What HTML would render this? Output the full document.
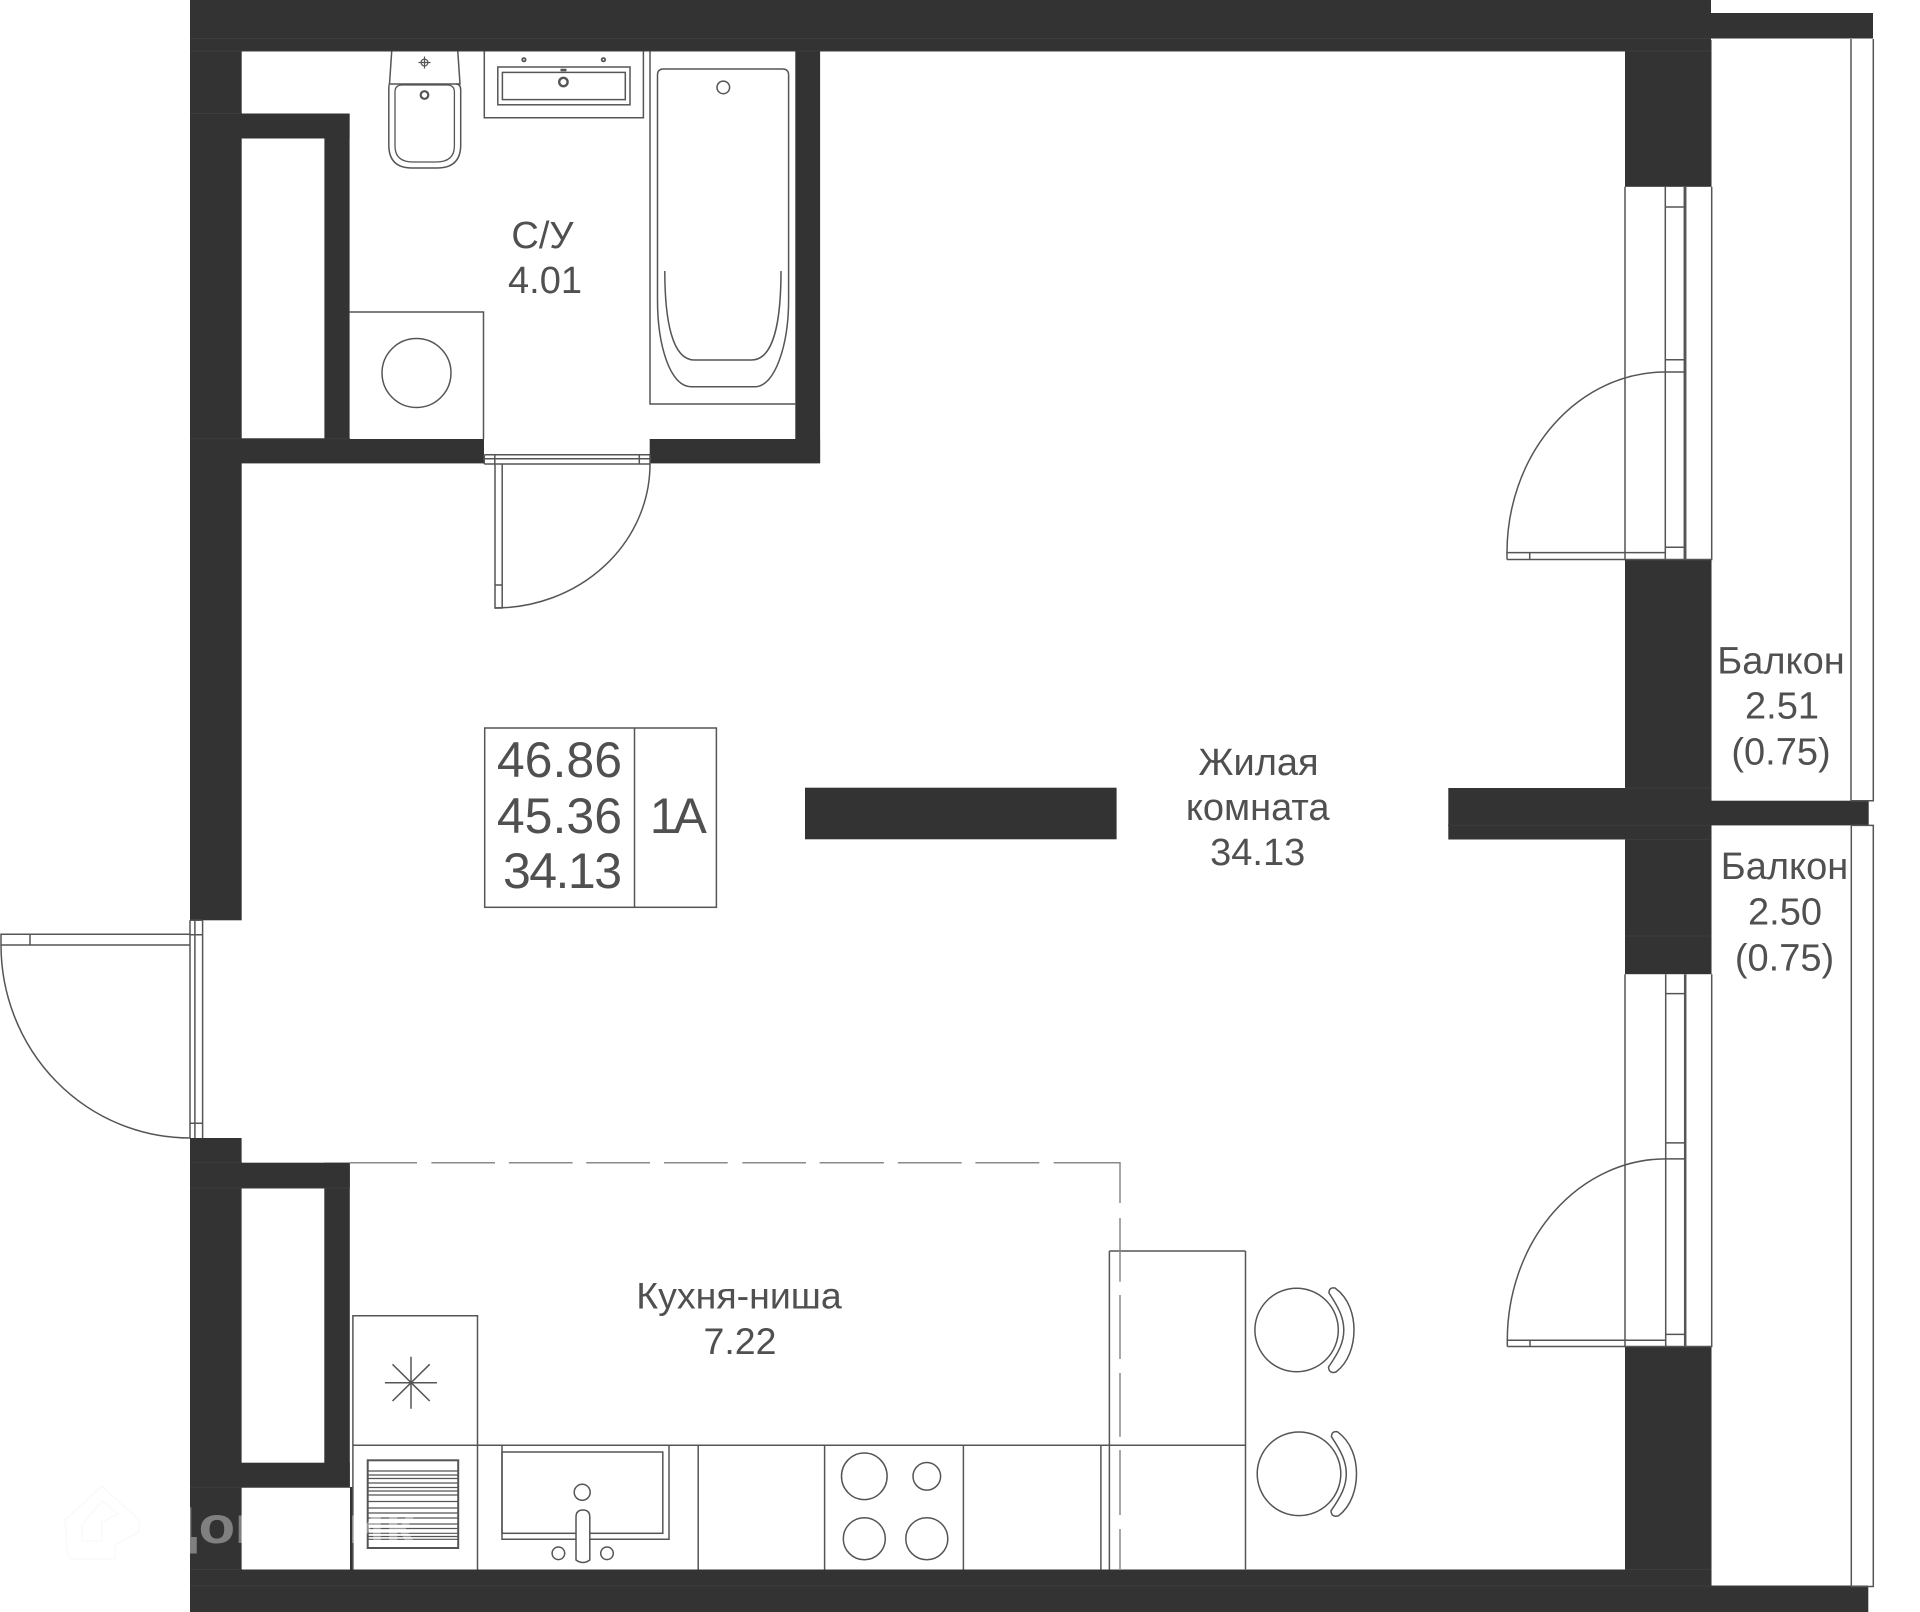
<!DOCTYPE html>
<html><head><meta charset="utf-8"><style>
html,body{margin:0;padding:0;background:#fff}
svg{display:block}
text{font-family:"Liberation Sans",sans-serif;fill:#505050}
</style></head><body>
<svg width="1920" height="1612" viewBox="0 0 1920 1612" xmlns="http://www.w3.org/2000/svg">
<!-- walls -->
<g fill="#333333">
<rect x="190" y="0" width="1521" height="51.4"/>
<rect x="1711" y="13" width="162" height="25.5"/>
<rect x="190" y="0" width="51.7" height="920.3"/>
<rect x="241" y="113.5" width="108.6" height="25"/>
<rect x="324.4" y="113.5" width="25.2" height="340"/>
<rect x="190" y="439" width="294" height="24.4"/>
<rect x="649.7" y="439" width="170.4" height="24.4"/>
<rect x="795.3" y="40" width="24.8" height="423"/>
<rect x="1625" y="40" width="86.5" height="146.8"/>
<rect x="1625" y="559.5" width="86.5" height="414.7"/>
<rect x="1625" y="1346.5" width="86.5" height="240"/>
<rect x="805" y="787.7" width="311.6" height="51.6"/>
<rect x="1448.3" y="788" width="200" height="51.5"/>
<rect x="1711" y="800.7" width="157.7" height="24.7"/>
<rect x="190" y="1138" width="51.6" height="474"/>
<rect x="190" y="1162.7" width="159.8" height="25.3"/>
<rect x="324.3" y="1162.7" width="25.5" height="324.6"/>
<rect x="190" y="1462.7" width="159.8" height="24.6"/>
<rect x="190" y="1569.5" width="1521.5" height="17"/>
<rect x="190" y="1586" width="1678.3" height="26"/>
<rect x="350" y="1487" width="2.5" height="83"/>
</g>
<!-- subtle wall seams -->
<g stroke="#3c3c3c" stroke-width="1" fill="none">
<path d="M190 38.5H1711M190 51H1711M190 113.5H242M190 438.8H350M190 1162.7H242M190 1188H350M190 1487.3H350M190 1569.5H242M1625 788H1710M1448 825.4H1710M1625 839.5H1710M1625 936H1710M190 1586H1868M1625 1569.5H1711"/>
</g>
<!-- fixtures -->
<g fill="none" stroke="#555" stroke-width="1.5">
<!-- balcony rails -->
<path d="M1851 39V800.7H1873.3V39"/>
<path d="M1851.3 825.4V1586.5H1873.3V825.4H1851.3"/>
<!-- toilet -->
<path d="M391.7 51.4L389.5 84H460L457.8 51.4"/>
<path d="M389.5 84Q388.8 84 388.8 90V145Q388.8 168 412 168H437Q460.7 168 460.7 145V90Q460.7 84 456 84"/>
<path d="M395 92Q395 85 402 85H447Q454.4 85 454.4 92V146Q454.4 162 436 162H413Q395 162 395 146Z" stroke-width="1.3"/>
<circle cx="424.5" cy="95" r="3.8" stroke-width="2.2"/>
<circle cx="424.5" cy="62.5" r="3.4" stroke-width="1.2"/>
<path d="M424.5 56.5V68.5M418.5 62.5H430.5" stroke-width="1.2"/>
<!-- sink -->
<path d="M484.3 51.4V117.8H643.4V51.4"/>
<rect x="497.8" y="67" width="132.2" height="37.8"/>
<rect x="502.4" y="72.4" width="122.9" height="27.2"/>
<circle cx="563.4" cy="82" r="4.2" stroke-width="2.4"/>
<circle cx="523.9" cy="59.7" r="1.7" stroke-width="1.8"/>
<circle cx="603.4" cy="59.7" r="1.7" stroke-width="1.8"/>
<path d="M560.5 70H566.5" stroke-width="2.5"/>
<!-- bath -->
<path d="M650 51.4V404H795.3"/>
<path d="M657.5 75Q657.5 69 663.5 69H782.5Q788.6 69 788.6 75V300C788.6 345 775 386.7 755 386.7H691C670 386.7 657.5 345 657.5 300Z"/>
<path d="M664.8 271C664.8 320 672 360 694.3 360H751.6C774 360 781 320 781 271"/>
<circle cx="723.3" cy="87.4" r="6.3"/>
<!-- washer -->
<path d="M349.6 312H483.5V439"/>
<circle cx="416.5" cy="373" r="34.5"/>
<!-- bath door -->
<path d="M484.3 454.7H650M484.3 458.7H650M484.3 464H650M484.3 454.7V464M494.8 454.7V464M639.3 454.7V464M650 454.7V464"/>
<path d="M495 464V608H502.2V464M495 585H502.2"/>
<path d="M650 464A155 144 0 0 1 495 608"/>
<!-- table -->
<rect x="484.7" y="728" width="231.7" height="179.3"/>
<path d="M634.5 728V907.3"/>
<!-- upper window -->
<path d="M1625 186.8V559.5H1711.7V186.8M1665.3 186.8V559.5M1684.3 186.8V559.5M1685.7 186.8V559.5M1665.3 207H1684.3M1665.3 359.7H1684.3M1665.3 372H1684.3M1665.3 547.3H1684.3"/>
<path d="M1507 559.5V552.6H1665.3M1507 559.5H1625M1529.7 552.6V559.5"/>
<path d="M1507 552.6A158.3 180.6 0 0 1 1665.3 372"/>
<!-- lower window -->
<path d="M1625 974.2V1346.5H1711.7V974.2M1665.7 974.2V1346.5M1684.7 974.2V1346.5M1685.7 974.2V1346.5M1665.7 993.6H1684.7M1665.7 1142.9H1684.7M1665.7 1158.9H1684.7M1665.7 1334.4H1684.7"/>
<path d="M1507.3 1346.5V1340.2H1665.7M1507.3 1346.5H1625M1530 1340.2V1346.5"/>
<path d="M1507.3 1340.2A158.4 181.3 0 0 1 1665.7 1158.9"/>
<!-- entry door -->
<path d="M190 920.3V1138M194.9 920.3V1138M202.6 920.3V1138M190 934.7H202.6M190 1123.3H202.6M190 920.3H202.6"/>
<path d="M190 934.3H1V945H190M30 934.3V945"/>
<path d="M1 945A189 193 0 0 0 190 1138"/>
<!-- kitchen -->
<path d="M352.9 1569.5V1315.7H477.5V1445.3M352.9 1445.3H1245.5"/>
<path d="M477.5 1445.3V1569.5M698.2 1445.3V1569.5M824.6 1445.3V1569.5M963.4 1445.3V1569.5M1100.9 1445.3V1569.5M1109.4 1251V1569.5M1245.5 1251V1569.5M1109.4 1251H1245.5"/>
<path d="M411 1356.7V1408.7M384.9 1382.7H436.9M392.5 1364.3L429.7 1401M429.7 1364.3L392.5 1401"/>
<rect x="367.7" y="1460.3" width="90.5" height="87.7" stroke-width="2"/>
<path d="M367.7 1471H458.2M367.7 1475H458.2M367.7 1478.5H458.2M367.7 1483H458.2M367.7 1487.5H458.2M367.7 1491H458.2M367.7 1495H458.2M367.7 1501.5H458.2M367.7 1508H458.2M367.7 1513H458.2M367.7 1518H458.2M367.7 1524H458.2M367.7 1528.5H458.2M367.7 1533.3H458.2M367.7 1536.5H458.2M367.7 1539.3H458.2" stroke-width="1.2"/>
<!-- kitchen sink -->
<path d="M502 1445.3V1539.3H669V1445.3"/>
<rect x="502" y="1452" width="160.8" height="81.3"/>
<circle cx="582.2" cy="1492.3" r="8"/>
<path d="M576 1517Q576 1510 583 1510Q589.8 1510 589.8 1517V1560Q583 1565 576 1560Z" fill="#fff"/>
<circle cx="558.4" cy="1553.3" r="6.3"/>
<circle cx="607" cy="1553.3" r="6.3"/>
<!-- hob -->
<ellipse cx="864.3" cy="1476.3" rx="22.8" ry="23.3"/>
<ellipse cx="926.8" cy="1476.3" rx="13.8" ry="13.8"/>
<ellipse cx="864.3" cy="1538.7" rx="21" ry="21"/>
<ellipse cx="926.8" cy="1538.7" rx="21" ry="21"/>
<!-- chairs -->
<circle cx="1296.6" cy="1330" r="41.7"/>
<path d="M1329 1293Q1329 1287 1335 1288C1349 1298 1354 1315 1354 1330C1354 1345 1349 1362 1336 1372Q1329 1374 1328.5 1367C1339 1352 1343.8 1342 1343.8 1330C1343.8 1318 1339 1308 1329 1293Z"/>
<circle cx="1299" cy="1473.8" r="41.8"/>
<path d="M1331.5 1436.8Q1331.5 1430.8 1337.5 1431.8C1351.5 1441.8 1356.5 1458.8 1356.5 1473.8C1356.5 1488.8 1351.5 1505.8 1338.5 1515.8Q1331.5 1517.8 1331 1510.8C1341.5 1495.8 1346.3 1485.8 1346.3 1473.8C1346.3 1461.8 1341.5 1451.8 1331.5 1436.8Z"/>
</g>
<!-- room boundary lines -->
<g fill="none" stroke="#8a8a8a" stroke-width="1.5">
<path d="M349.8 1162.7H417M431.4 1162.7H495M508.9 1162.7H572.6M586.3 1162.7H650M664 1162.7H727.7M742.4 1162.7H806M819.6 1162.7H883.9M897.8 1162.7H961.6M975.4 1162.7H1039.3M1053.6 1162.7H1120V1203M1120 1218V1281.7M1120 1295V1359M1120 1373V1436.7M1120 1450V1515M1120 1529V1569"/>
</g>
<path d="M1245.5 1569.5H1625" stroke="#999" stroke-width="1" fill="none"/>
<!-- labels -->
<g font-size="38" text-anchor="middle">
<text x="542.5" y="248">С/У</text>
<text x="545" y="293">4.01</text>
<text x="1258.5" y="775">Жилая</text>
<text x="1257.7" y="819.8">комната</text>
<text x="1257.7" y="865">34.13</text>
<text x="739" y="1308.5" font-size="37.5">Кухня-ниша</text>
<text x="740" y="1354" font-size="37.5">7.22</text>
<text x="1781" y="673.5">Балкон</text>
<text x="1782" y="718.5">2.51</text>
<text x="1781" y="764.5">(0.75)</text>
<text x="1784.5" y="879">Балкон</text>
<text x="1785" y="924.5">2.50</text>
<text x="1784.5" y="970.5">(0.75)</text>
</g>
<g font-size="50" text-anchor="end">
<text x="622" y="777">46.86</text>
<text x="622" y="833">45.36</text>
<text x="622" y="888" textLength="119" lengthAdjust="spacing">34.13</text>
</g>
<text x="678.3" y="833" font-size="50" text-anchor="middle" textLength="57" lengthAdjust="spacing">1A</text>
<!-- watermark -->
<path d="M65 1520L102 1486L139 1520V1532L115 1545V1559H75Q67 1559 67 1550Z M82 1525V1541H102V1522L118 1514L102 1501Z" fill="#fff" stroke="#f7f7f7" stroke-width="1" fill-rule="evenodd"/>
<text x="155" y="1543" font-size="52" font-weight="700" textLength="260" lengthAdjust="spacingAndGlyphs" style="fill:#fff;fill-opacity:.38">Домклик</text>
</svg>
</body></html>
